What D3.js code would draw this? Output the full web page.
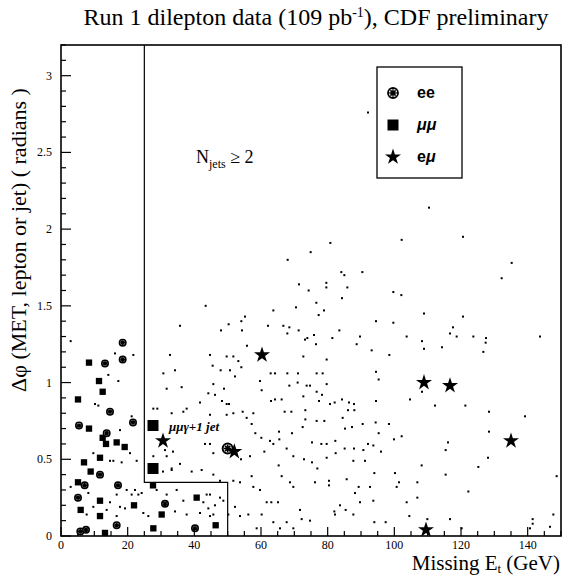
<!DOCTYPE html>
<html><head><meta charset="utf-8">
<script src="https://cdn.jsdelivr.net/npm/d3@7"></script>
<style>body{margin:0;background:#fff}svg{display:block}</style>
</head><body><svg id="c" width="563" height="576"></svg>
<script>
// ---------- data ----------
const xTicks = [0,20,40,60,80,100,120,140];
const yTicks = [0,0.5,1,1.5,2,2.5,3];
const yTickLabels = ["0","0.5","1","1.5","2","2.5","3"];
const legendLabels = [["ee",""],["","μμ"],["e","μ"]];
// region boundary (N_jets >= 2 signal region)
const cutX = [25,25,50,50];
const cutY = [3.2,0.35,0.35,0];
// candidate events (signal region)
const eeCand = [[50,0.57]];
const mumuCand = [[27.6,0.72],[27.6,0.44]];
const emuCand = [[30.6,0.62],[52,0.55],[60.3,1.18],[108.9,1.0],[116.7,0.98],[135,0.62],[109.5,0.04]];
// low-MET data events
const mumuLow = [[8.4,1.13],[11.4,1.01],[12.5,0.94],[5.1,0.89],[8.4,0.70],[12.5,0.64],[13.5,0.60],[16.7,0.61],[19.1,0.58],[11.7,0.51],[6.9,0.48],[8.9,0.42],[5.1,0.35],[11.7,0.23],[5.9,0.17],[21.9,0.20],[27.6,0.33],[11.7,0.13],[30.2,0.14],[40.7,0.25],[27.7,0.05],[46.4,0.07],[13.2,0.02]];
const eeLow = [[18.5,1.26],[13.2,1.125],[18.5,1.15],[14.7,0.81],[5.4,0.72],[21.6,0.74],[13.7,0.67],[11.7,0.40],[7.1,0.33],[17.1,0.33],[5.1,0.25],[31.2,0.21],[5.8,0.03],[7.5,0.04],[16.7,0.07],[40.2,0.05]];
// simulated ttbar events (small dots)
const mc = [[110.4,2.14],[120.6,1.95],[102.2,1.93],[80.8,1.91],[74.9,1.85],[68.0,1.80],[135.2,1.78],[84.1,1.72],[90.4,1.72],[85.0,1.70],[132.2,1.68],[79.6,1.65],[71.4,1.64],[85.9,1.62],[79.6,1.62],[74.3,1.60],[99.7,1.59],[102.1,1.57],[84.3,1.55],[43.4,1.50],[76.6,1.52],[70.5,1.49],[78.9,1.47],[63.7,1.47],[77.3,1.44],[55.2,1.43],[54.1,1.40],[108.9,1.45],[120.6,1.43],[50.3,1.38],[62.1,1.37],[66.7,1.37],[68.5,1.36],[94.5,1.40],[99.7,1.39],[117.6,1.36],[48.0,1.34],[54.3,1.34],[67.9,1.32],[71.3,1.34],[83.5,1.34],[73.9,1.29],[75.9,1.31],[81.4,1.29],[73.2,1.28],[76.5,1.25],[89.7,1.30],[103.7,1.30],[116.7,1.32],[118.7,1.30],[123.7,1.30],[127.5,1.29],[143.7,1.30],[108.3,1.27],[127.4,1.26],[88.7,1.25],[55.8,1.24],[44.7,1.18],[93.2,1.21],[98.5,1.18],[108.9,1.22],[126.7,1.20],[114.3,1.23],[72.7,1.17],[79.7,1.15],[49.7,1.17],[51.7,1.17],[53.2,1.14],[45.5,1.11],[54.1,1.10],[47.9,1.08],[50.7,1.08],[52.2,1.04],[94.5,1.07],[95.3,1.02],[62.9,1.06],[64.2,1.06],[67.9,1.06],[71.1,1.06],[76.7,1.06],[78.5,1.06],[79.7,0.99],[74.7,0.98],[45.7,0.99],[48.9,0.96],[59.7,1.01],[60.2,0.95],[63.0,0.88],[64.2,0.89],[66.2,0.89],[68.5,0.98],[71.0,1.00],[73.7,0.98],[76.7,0.94],[72.7,0.91],[78.3,0.92],[77.4,0.88],[80.7,0.86],[82.1,0.87],[84.3,0.89],[86.4,0.87],[87.9,0.86],[86.1,0.82],[88.0,0.82],[94.5,0.88],[104.7,0.89],[108.3,0.94],[112.2,0.85],[121.3,0.85],[128.4,0.81],[139.2,0.78],[48.3,0.88],[50.4,0.86],[44.2,0.93],[54.5,0.81],[57.7,0.80],[67.1,0.81],[69.1,0.81],[73.3,0.82],[73.3,0.76],[72.5,0.71],[76.7,0.75],[79.0,0.75],[84.5,0.77],[85.2,0.70],[87.3,0.71],[90.5,0.73],[94.4,0.74],[98.4,0.73],[99.9,0.63],[102.2,0.65],[95.3,0.67],[128.4,0.68],[116.1,0.61],[115.4,0.56],[51.7,0.80],[44.7,0.79],[49.7,0.79],[55.7,0.77],[57.2,0.73],[58.3,0.67],[60.1,0.64],[62.7,0.62],[63.7,0.60],[61.0,0.55],[67.7,0.57],[65.5,0.63],[65.4,0.68],[69.3,0.67],[75.3,0.61],[78.1,0.60],[79.7,0.60],[82.3,0.62],[85.1,0.57],[87.9,0.57],[90.7,0.56],[92.1,0.60],[93.7,0.59],[96.0,0.55],[75.3,0.48],[76.9,0.44],[79.7,0.51],[82.4,0.54],[87.7,0.49],[91.2,0.49],[94.0,0.41],[100.2,0.41],[101.4,0.35],[106.9,0.35],[108.2,0.46],[115.4,0.40],[122.2,0.29],[125.2,0.45],[128.1,0.51],[56.7,0.52],[54.0,0.50],[45.7,0.54],[44.7,0.60],[43.2,0.60],[65.3,0.46],[69.7,0.52],[72.9,0.50],[66.2,0.39],[57.2,0.39],[53.7,0.35],[51.7,0.36],[57.7,0.32],[59.7,0.30],[61.7,0.22],[63.1,0.22],[65.1,0.22],[68.7,0.35],[69.7,0.32],[76.2,0.35],[80.4,0.36],[80.4,0.33],[85.7,0.37],[89.3,0.32],[92.7,0.32],[93.7,0.23],[88.2,0.28],[89.7,0.22],[100.7,0.32],[106.9,0.25],[103.7,0.22],[71.7,0.17],[83.7,0.20],[85.4,0.17],[82.0,0.16],[74.7,0.10],[82.2,0.14],[87.7,0.14],[94.0,0.09],[97.4,0.09],[104.5,0.13],[109.9,0.11],[116.7,0.11],[120.2,0.05],[141.5,0.11],[141.5,0.08],[146.7,0.06],[148.7,0.39],[147.7,0.14],[140.7,0.05],[47.7,0.25],[44.7,0.27],[42.7,0.22],[44.2,0.18],[48.7,0.23],[45.7,0.14],[50.2,0.14],[52.2,0.19],[53.7,0.13],[56.2,0.14],[60.2,0.14],[63.7,0.09],[67.7,0.09],[69.7,0.05],[72.2,0.11],[65.7,0.05],[58.7,0.05],[92.1,2.76],
[35.7,1.37],[32.7,1.18],[30.7,1.06],[34.2,1.08],[31.7,0.96],[36.2,0.97],[27.7,0.83],[28.9,0.83],[37.7,0.83],[31.2,0.56],[33.6,0.55],[30.6,0.42],[33.2,0.43],[33.2,0.80],[36.7,0.81],[41.7,0.87],[46.2,0.92],[49.7,0.86],[27.7,0.52],[31.7,0.52],[33.2,0.44],[35.7,0.47],[39.2,0.42],[42.2,0.43],[45.7,0.40],[47.7,0.36],[28.7,0.30],[31.7,0.27],[34.7,0.30],[36.7,0.23],[43.7,0.27],[46.2,0.20],[34.2,0.16],[37.7,0.14],[41.7,0.15],[44.7,0.13],[26.2,0.13],[24.2,0.28],[22.2,0.30],[16.7,0.32],[21.2,0.27],[17.7,0.19],[13.7,0.17],[15.7,0.49],[18.2,0.48],
[2.9,1.27],[16.2,1.19],[21.7,1.18],[14.2,1.05],[17.2,1.01],[10.2,0.86],[11.2,0.85],[21.2,0.78],[17.7,0.69],[9.7,0.54],[14.7,0.49],[20.7,0.54],[22.7,0.49],[19.7,0.30],[16.7,0.27],[23.2,0.27],[8.2,0.28],[2.9,0.32],[9.7,0.19],[14.7,0.22],[19.2,0.18],[24.7,0.15],[7.7,0.14],[16.7,0.13]];

// ---------- chart ----------
const svg = d3.select("#c");
const x = d3.scaleLinear().domain([0,150]).range([61,561]);
const y = d3.scaleLinear().domain([0,3.2]).range([536,45]);
const serif = "'Liberation Serif','Times New Roman',serif";
const sans = "'Liberation Sans',Arial,sans-serif";

// small MC dots
svg.append("g").selectAll("rect").data(mc).join("rect")
  .attr("x", d => x(d[0]) - 1).attr("y", d => y(d[1]) - 1)
  .attr("width", 2).attr("height", 2).attr("fill", "#000");

// cut boundary
svg.append("path")
  .attr("d", d3.line().x(d => x(d[0])).y(d => y(d[1]))(cutX.map((v,i) => [v, cutY[i]])))
  .attr("fill","none").attr("stroke","#000").attr("stroke-width",1.2);

function eeSym(g, cx, cy, r, sw){
  g.append("circle").attr("cx",cx).attr("cy",cy).attr("r",r)
    .attr("fill","#fff").attr("stroke","#000").attr("stroke-width",sw);
  const k = r*0.75;
  g.append("path").attr("d",`M${cx-k},${cy}L${cx+k},${cy}M${cx},${cy-k}L${cx},${cy+k}M${cx-k*0.7},${cy-k*0.7}L${cx+k*0.7},${cy+k*0.7}M${cx-k*0.7},${cy+k*0.7}L${cx+k*0.7},${cy-k*0.7}`)
    .attr("stroke","#000").attr("stroke-width",sw*0.8);
}

const pts = svg.append("g");
mumuLow.forEach(d => pts.append("path").attr("transform",`translate(${x(d[0])},${y(d[1])})`)
  .attr("d", d3.symbol(d3.symbolSquare, 40)()).attr("fill","#000"));
eeLow.forEach(d => eeSym(pts, x(d[0]), y(d[1]), 3.2, 1.6));
mumuCand.forEach(d => pts.append("path").attr("transform",`translate(${x(d[0])},${y(d[1])})`)
  .attr("d", d3.symbol(d3.symbolSquare, 121)()).attr("fill","#000"));
eeCand.forEach(d => eeSym(pts, x(d[0]), y(d[1]), 5, 2));
emuCand.forEach(d => pts.append("path").attr("transform",`translate(${x(d[0])},${y(d[1])})`)
  .attr("d", d3.symbol(d3.symbolStar, 80)()).attr("fill","#000"));

// axes (ticks inside)
const xMinor = d3.range(0,151,5), yMinor = d3.range(0,3.21,0.1);
const ax = svg.append("g");
xMinor.forEach(v => { const major = v % 20 === 0;
  ax.append("line").attr("x1",x(v)).attr("x2",x(v)).attr("y1",536).attr("y2",536-(major?9:5))
    .attr("stroke","#000").attr("stroke-width",1.2); });
yMinor.forEach(v => { const major = Math.abs(v*2 - Math.round(v*2)) < 1e-6;
  ax.append("line").attr("x1",61).attr("x2",61+(major?10:5)).attr("y1",y(v)).attr("y2",y(v))
    .attr("stroke","#000").attr("stroke-width",1.2); });
// frame
svg.append("rect").attr("x",61).attr("y",45).attr("width",500).attr("height",491)
  .attr("fill","none").attr("stroke","#000").attr("stroke-width",1.6);

// tick labels
svg.append("g").selectAll("text").data(xTicks).join("text")
  .attr("x", d => x(d)).attr("y", 549).attr("text-anchor","middle")
  .attr("font-family", serif).attr("font-size", 12).text(d => d);
svg.append("g").selectAll("text").data(yTicks).join("text")
  .attr("x", 52).attr("y", d => y(d) + 4).attr("text-anchor","end")
  .attr("font-family", serif).attr("font-size", 12).text((d,i) => yTickLabels[i]);

// title
const t = svg.append("text").attr("x",316).attr("y",25).attr("text-anchor","middle")
  .attr("font-family",serif).attr("font-size",24);
t.append("tspan").text("Run 1 dilepton data (109 pb");
t.append("tspan").attr("dy",-8).attr("font-size",14).text("-1");
t.append("tspan").attr("dy",8).text("), CDF preliminary");

// axis titles
const xl = svg.append("text").attr("x",560).attr("y",570).attr("text-anchor","end")
  .attr("font-family",serif).attr("font-size",21);
xl.append("tspan").text("Missing E");
xl.append("tspan").attr("dy",3).attr("font-size",13).text("t");
xl.append("tspan").attr("dy",-3).text(" (GeV)");
svg.append("text").attr("transform","translate(26,240) rotate(-90)").attr("text-anchor","middle")
  .attr("font-family",serif).attr("font-size",22).text("Δφ (MET, lepton or jet) ( radians )");

// annotations
const nj = svg.append("text").attr("x",196).attr("y",163).attr("font-family",serif).attr("font-size",18);
nj.append("tspan").text("N");
nj.append("tspan").attr("dy",5).attr("font-size",12).text("jets");
nj.append("tspan").attr("dy",-5).text(" ≥ 2");
svg.append("text").attr("x",169).attr("y",431).attr("font-family",serif).attr("font-size",13)
  .attr("font-weight","bold").attr("font-style","italic").text("μμγ+1 jet");

// legend
svg.append("rect").attr("x",377).attr("y",67).attr("width",85).attr("height",111)
  .attr("fill","#fff").attr("stroke","#000").attr("stroke-width",1.3);
const lg = svg.append("g");
const ly = [93,125,157];
eeSym(lg, 393, ly[0], 5, 1.8);
lg.append("path").attr("transform",`translate(393,${ly[1]})`).attr("d", d3.symbol(d3.symbolSquare,121)()).attr("fill","#000");
lg.append("path").attr("transform",`translate(393,${ly[2]})`).attr("d", d3.symbol(d3.symbolStar,80)()).attr("fill","#000");
legendLabels.forEach((s,i) => { const tx = lg.append("text").attr("x",417).attr("y",ly[i]+5)
  .attr("font-family",sans).attr("font-weight","bold").attr("font-size",16);
  tx.append("tspan").text(s[0]);
  tx.append("tspan").attr("font-style","italic").text(s[1]); });
</script></body></html>
